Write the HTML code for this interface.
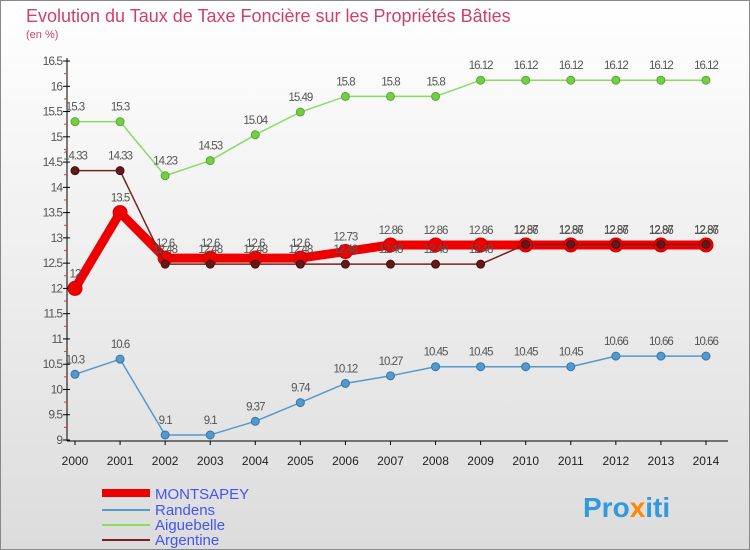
<!DOCTYPE html>
<html><head><meta charset="utf-8"><style>
body{margin:0;width:750px;height:550px;overflow:hidden;font-family:"Liberation Sans",sans-serif}
svg{display:block}
</style></head><body>
<svg id="c" width="750" height="550" xmlns="http://www.w3.org/2000/svg">
<defs><linearGradient id="bg" x1="0" y1="0" x2="0" y2="1"><stop offset="0" stop-color="#ffffff"/><stop offset="1" stop-color="#dcdcdc"/></linearGradient></defs>
<rect x="0.5" y="0.5" width="749" height="549" fill="url(#bg)" stroke="#888"/>
<text x="26" y="22" font-size="18" fill="#d0406a" font-weight="300">Evolution du Taux de Taxe Foncière sur les Propriétés Bâties</text>
<text x="26" y="38" font-size="11" fill="#d0406a">(en %)</text>
<g id="axes"></g><g id="series"></g>
<g>
<line x1="102" y1="493" x2="150" y2="493" stroke="#ee0000" stroke-width="8"/>
<text x="155" y="499" font-size="15" fill="#4455ee">MONTSAPEY</text>
<line x1="102" y1="510" x2="150" y2="510" stroke="#5599cc" stroke-width="2"/>
<text x="155" y="515" font-size="15" fill="#4455ee">Randens</text>
<line x1="102" y1="525" x2="150" y2="525" stroke="#88dd66" stroke-width="2"/>
<text x="155" y="530" font-size="15" fill="#4455ee">Aiguebelle</text>
<line x1="102" y1="540" x2="150" y2="540" stroke="#772222" stroke-width="2"/>
<text x="155" y="545" font-size="15" fill="#4455ee">Argentine</text>
</g>
<text x="583" y="517" font-size="28" font-weight="bold" fill="#3399dd">Pro<tspan fill="#ff8800">x</tspan>iti</text>
</svg>
<script>
const years=[2000,2001,2002,2003,2004,2005,2006,2007,2008,2009,2010,2011,2012,2013,2014];
const yTicks=[9,9.5,10,10.5,11,11.5,12,12.5,13,13.5,14,14.5,15,15.5,16,16.5];
const montsapey=[12,13.5,12.6,12.6,12.6,12.6,12.73,12.86,12.86,12.86,12.86,12.86,12.86,12.86,12.86];
const randens=[10.3,10.6,9.1,9.1,9.37,9.74,10.12,10.27,10.45,10.45,10.45,10.45,10.66,10.66,10.66];
const aiguebelle=[15.3,15.3,14.23,14.53,15.04,15.49,15.8,15.8,15.8,16.12,16.12,16.12,16.12,16.12,16.12];
const argentine=[14.33,14.33,12.48,12.48,12.48,12.48,12.48,12.48,12.48,12.48,12.87,12.87,12.87,12.87,12.87];
const NS='http://www.w3.org/2000/svg';
const X=i=>75+i*45.07, Y=v=>440-(v-9)*50.53;
function mk(t,a,p){const e=document.createElementNS(NS,t);for(const k in a)e.setAttribute(k,a[k]);p.appendChild(e);return e;}
const ax=document.getElementById('axes');
const yl=mk('line',{x1:67,y1:58,x2:67,y2:441,stroke:'#000'},ax);


const xl=mk('line',{x1:67,y1:441,x2:728,y2:441,stroke:'#000'},ax);


for(let v=9;v<=16.5001;v+=0.25){const y=Y(v);const major=Math.abs(v*2-Math.round(v*2))<1e-6;
 mk('line',{x1:major?63:64,y1:y,x2:major?70:67,y2:y,stroke:major?'#000':'#e33'},ax);}
yTicks.forEach(v=>{const t=mk('text',{x:62,y:Y(v)+4,'text-anchor':'end','font-size':12,fill:'#555','letter-spacing':'-1'},ax);t.textContent=v;
 
 });
years.forEach((yr,i)=>{const t=mk('text',{x:X(i),y:465,'text-anchor':'middle','font-size':12,fill:'#222'},ax);t.textContent=yr;
 
 
 mk('line',{x1:X(i),y1:441,x2:X(i),y2:445,stroke:'#000'},ax);});
const sg=document.getElementById('series');
function draw(name,vals,color,w,r,dot,stroke){
 const g=mk('g',{},sg);
 
 
 const p=mk('polyline',{points:vals.map((v,i)=>X(i)+','+Y(v)).join(' '),fill:'none',stroke:color,'stroke-width':w,'stroke-linejoin':'round'},g);
 
 
 vals.forEach((v,i)=>{const c=mk('circle',{cx:X(i),cy:Y(v),r:r,fill:dot,stroke:stroke,'stroke-width':1},g);
  
  
  const t=mk('text',{x:X(i),y:Y(v)-11,'text-anchor':'middle','font-size':11.5,fill:'#555','letter-spacing':'-1'},g);t.textContent=v;
  
  });
}
draw('randens',randens,'#5599cc',1.5,4,'#5599cc','#3377aa');
draw('aiguebelle',aiguebelle,'#88dd66',1.5,4,'#77cc44','#55aa33');
draw('montsapey',montsapey,'#ee0000',9,7,'#ee0000','#cc0000');
draw('argentine',argentine,'#772222',1.5,4,'#661818','#441010');
</script>
</body></html>
